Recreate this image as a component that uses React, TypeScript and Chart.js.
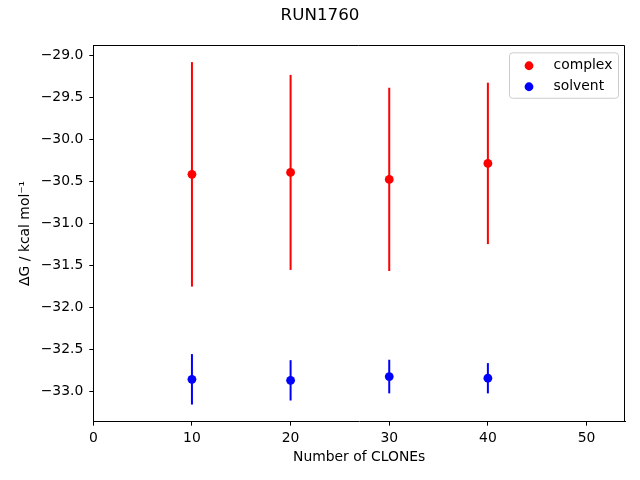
import React, { useEffect, useRef } from "react";
import { Chart, registerables } from "chart.js";

Chart.register(...registerables);

const clones = [10, 20, 30, 40];
const complexDG = [-30.415, -30.392, -30.475, -30.285];
const complexErr = [1.335, 1.16, 1.09, 0.96];
const solventDG = [-32.853, -32.865, -32.82, -32.84];
const solventErr = [0.3, 0.24, 0.2, 0.18];
const seriesLabels = ["complex", "solvent"];
const seriesColors = ["#ff0000", "#0000ff"];
const chartTitle = "RUN1760";
const xLabel = "Number of CLONEs";
const yLabel = "ΔG / kcal mol⁻¹";

const FONT = "'DejaVu Sans', sans-serif";

const errorBarPlugin = {
  id: "errorBars",
  beforeDatasetsDraw(chart: any) {
    const { ctx, scales } = chart;
    const errs = [complexErr, solventErr];
    chart.data.datasets.forEach((ds: any, i: number) => {
      ctx.save();
      ctx.strokeStyle = seriesColors[i];
      ctx.lineWidth = 2;
      ds.data.forEach((p: any, j: number) => {
        const x = scales.x.getPixelForValue(p.x);
        const y1 = scales.y.getPixelForValue(p.y + errs[i][j]);
        const y2 = scales.y.getPixelForValue(p.y - errs[i][j]);
        ctx.beginPath();
        ctx.moveTo(x, y1);
        ctx.lineTo(x, y2);
        ctx.stroke();
      });
      ctx.restore();
    });
  },
  afterDraw(chart: any) {
    const { ctx, chartArea } = chart;
    ctx.save();
    // top and right spines
    ctx.strokeStyle = "#000";
    ctx.lineWidth = 1;
    const t = Math.round(chartArea.top) + 0.5;
    const r = Math.round(chartArea.right) - 0.5;
    ctx.beginPath();
    ctx.moveTo(Math.round(chartArea.left), t);
    ctx.lineTo(r, t);
    ctx.lineTo(r, Math.round(chartArea.bottom));
    ctx.stroke();
    // legend
    const bx = chartArea.right - 116;
    const by = chartArea.top + 7.3;
    const bw = 109;
    const bh = 45.4;
    ctx.beginPath();
    ctx.roundRect(bx + 0.5, by + 0.5, bw, bh, 3);
    ctx.fillStyle = "rgba(255,255,255,0.8)";
    ctx.fill();
    ctx.strokeStyle = "#cccccc";
    ctx.stroke();
    ctx.font = `13.9px ${FONT}`;
    ctx.textBaseline = "middle";
    ctx.textAlign = "left";
    seriesLabels.forEach((lab, i) => {
      const yy = by + 13.4 + i * 21;
      ctx.beginPath();
      ctx.arc(bx + 20, yy, 4.4, 0, Math.PI * 2);
      ctx.fillStyle = seriesColors[i];
      ctx.fill();
      ctx.fillStyle = "#000";
      ctx.fillText(lab, bx + 44.5, yy);
    });
    ctx.restore();
  },
};

export default function App() {
  const ref = useRef<HTMLCanvasElement | null>(null);
  useEffect(() => {
    document.body.style.margin = "0";
    const canvas = ref.current!;
    const chart = new Chart(canvas, {
      type: "scatter",
      data: {
        datasets: [
          {
            label: seriesLabels[0],
            data: clones.map((c, i) => ({ x: c, y: complexDG[i] })),
            backgroundColor: seriesColors[0],
            borderColor: seriesColors[0],
            pointRadius: 4.4,
            borderWidth: 0,
          },
          {
            label: seriesLabels[1],
            data: clones.map((c, i) => ({ x: c, y: solventDG[i] })),
            backgroundColor: seriesColors[1],
            borderColor: seriesColors[1],
            pointRadius: 4.4,
            borderWidth: 0,
          },
        ],
      },
      options: {
        animation: false,
        responsive: false,
        devicePixelRatio: 1,
        layout: { padding: { left: 15, right: 15, top: 0, bottom: 0 } },
        plugins: {
          legend: { display: false },
          tooltip: { enabled: false },
          title: {
            display: true,
            text: chartTitle,
            color: "#000",
            font: { family: FONT, size: 16.7, weight: "normal" },
            padding: { top: 6, bottom: 19 },
          },
        },
        scales: {
          x: {
            type: "linear",
            min: 0,
            max: 53.9,
            afterFit(scale: any) {
              scale.height = 58.3;
            },
            ticks: {
              stepSize: 10,
              includeBounds: false,
              color: "#000",
              font: { family: FONT, size: 13.9 },
              padding: 4,
              maxRotation: 0,
            },
            grid: {
              display: true,
              drawOnChartArea: false,
              drawTicks: true,
              tickLength: 4,
              color: "#000",
            },
            border: { display: true, color: "#000" },
            title: {
              display: true,
              text: xLabel,
              color: "#000",
              font: { family: FONT, size: 13.9 },
              padding: { top: 0, bottom: 14.7 },
            },
          },
          y: {
            type: "linear",
            min: -33.357,
            max: -28.877,
            afterFit(scale: any) {
              scale.width = 78.3;
            },
            ticks: {
              stepSize: 0.5,
              includeBounds: false,
              color: "#000",
              font: { family: FONT, size: 13.9 },
              padding: 6,
              callback: (v: any) => Number(v).toFixed(1).replace("-", "−"),
            },
            grid: {
              display: true,
              drawOnChartArea: false,
              drawTicks: true,
              tickLength: 4,
              color: "#000",
            },
            border: { display: true, color: "#000" },
            title: {
              display: true,
              text: yLabel,
              color: "#000",
              font: { family: FONT, size: 13.9 },
              padding: { top: 2, bottom: 0 },
            },
          },
        },
      },
      plugins: [errorBarPlugin],
    } as any);
    return () => chart.destroy();
  }, []);
  return (
    <div style={{ position: "absolute", left: 0, top: 0, width: 640, height: 480, background: "#fff" }}>
      <canvas ref={ref} width={640} height={480} style={{ display: "block" }} />
    </div>
  );
}
